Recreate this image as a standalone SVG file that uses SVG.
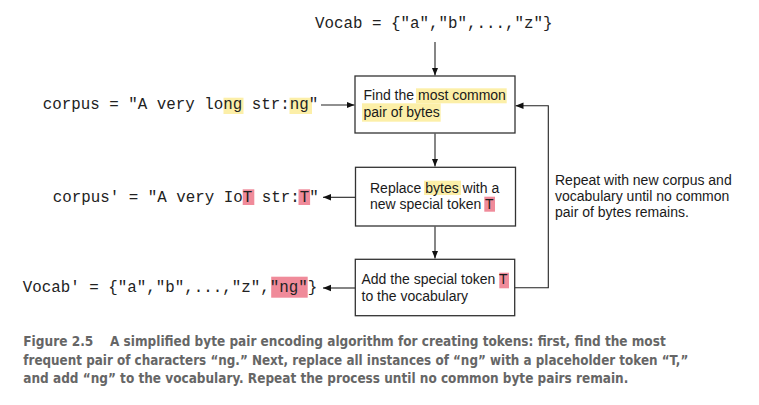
<svg xmlns="http://www.w3.org/2000/svg" width="759" height="405" viewBox="0 0 759 405">
<style>
.mono{font-family:"Liberation Mono","Courier New",monospace;font-size:15.83px;fill:#222}
.sans{font-family:"Liberation Sans",Arial,sans-serif;font-size:14px;fill:#1a1a1a}
.cap{font-family:"Liberation Sans Narrow","DejaVu Sans Condensed","Roboto Condensed",sans-serif;font-size:14px;font-weight:bold;fill:#666}
.box{fill:#fff;stroke:#333;stroke-width:1.3}
.yl{fill:#fcefa8}
.pk{fill:#f08b9a}
.ln{fill:none;stroke:#222;stroke-width:1.1}
</style>
<defs>
<marker id="ah" viewBox="0 0 10 10" refX="10" refY="5" markerWidth="8" markerHeight="8" markerUnits="userSpaceOnUse" orient="auto">
<path d="M0,1 L10,5 L0,9 z" fill="#111"/>
</marker>
</defs>
<rect width="759" height="405" fill="#fff"/>

<g id="connectors">
<line class="ln" x1="435" y1="42" x2="435" y2="75.5" marker-end="url(#ah)"/>
<line class="ln" x1="435" y1="133.5" x2="435" y2="166.5" marker-end="url(#ah)"/>
<line class="ln" x1="435" y1="226.5" x2="435" y2="258.5" marker-end="url(#ah)"/>
<line class="ln" x1="321" y1="105" x2="354.5" y2="105" marker-end="url(#ah)"/>
<line class="ln" x1="355" y1="197.3" x2="323" y2="197.3" marker-end="url(#ah)"/>
<line class="ln" x1="355" y1="288" x2="323" y2="288" marker-end="url(#ah)"/>
<polyline class="ln" points="515,287.7 548.3,287.7 548.3,105.7 515.5,105.7" marker-end="url(#ah)"/>
</g>

<g id="vocab-top">
<text class="mono" x="315" y="28">Vocab = {"a","b",...,"z"}</text>
</g>

<g id="corpus">
<rect class="yl" x="223.5" y="97.7" width="20" height="16.3"/>
<rect class="yl" x="289.5" y="97.7" width="22.5" height="16.3"/>
<text class="mono" x="42.7" y="109.3" xml:space="preserve">corpus = "A very long str:ng"</text>
</g>

<g id="corpus2">
<rect class="pk" x="242.7" y="189.3" width="11.6" height="15.7"/>
<rect class="pk" x="298.5" y="189.3" width="11.6" height="15.7"/>
<text class="mono" x="52.7" y="201.5" xml:space="preserve">corpus' = "A very IoT str:T"</text>
</g>

<g id="vocab2">
<rect class="pk" x="271.2" y="276.7" width="36.5" height="21"/>
<text class="mono" x="22.7" y="292.3" xml:space="preserve">Vocab' = {"a","b",...,"z","ng"}</text>
</g>

<g id="box1">
<rect class="box" x="355" y="76" width="160" height="57"/>
<rect class="yl" x="416" y="88.3" width="90.7" height="15"/>
<rect class="yl" x="362" y="103.3" width="78.7" height="18.4"/>
<text class="sans" x="363.5" y="100">Find the most common</text>
<text class="sans" x="363.5" y="116.5">pair of bytes</text>
</g>

<g id="box2">
<rect class="box" x="355.5" y="167.3" width="160" height="58.7"/>
<rect class="yl" x="424" y="180.7" width="37" height="14.3"/>
<rect class="pk" x="484.3" y="196.7" width="10.7" height="15"/>
<text class="sans" x="370" y="192.5">Replace bytes with a</text>
<text class="sans" x="370" y="208.5">new special token T</text>
</g>

<g id="box3">
<rect class="box" x="355.3" y="259.3" width="159.4" height="56.4"/>
<rect class="pk" x="499.3" y="272.7" width="9.7" height="15.6"/>
<text class="sans" x="361.5" y="284.3">Add the special token T</text>
<text class="sans" x="361.5" y="300.5">to the vocabulary</text>
</g>

<g id="loop-label">
<text class="sans" x="555" y="185">Repeat with new corpus and</text>
<text class="sans" x="555" y="200.8">vocabulary until no common</text>
<text class="sans" x="555" y="216.6">pair of bytes remains.</text>
</g>

<g id="caption">
<text class="cap" x="23.3" y="345.7" textLength="70" lengthAdjust="spacingAndGlyphs">Figure 2.5</text>
<text class="cap" x="110" y="345.7" textLength="555.7" lengthAdjust="spacingAndGlyphs">A simplified byte pair encoding algorithm for creating tokens: first, find the most</text>
<text class="cap" x="23.3" y="364.5" textLength="665" lengthAdjust="spacingAndGlyphs">frequent pair of characters “ng.” Next, replace all instances of “ng” with a placeholder token “T,”</text>
<text class="cap" x="23.3" y="383.3" textLength="605" lengthAdjust="spacingAndGlyphs">and add “ng” to the vocabulary. Repeat the process until no common byte pairs remain.</text>
</g>
</svg>
